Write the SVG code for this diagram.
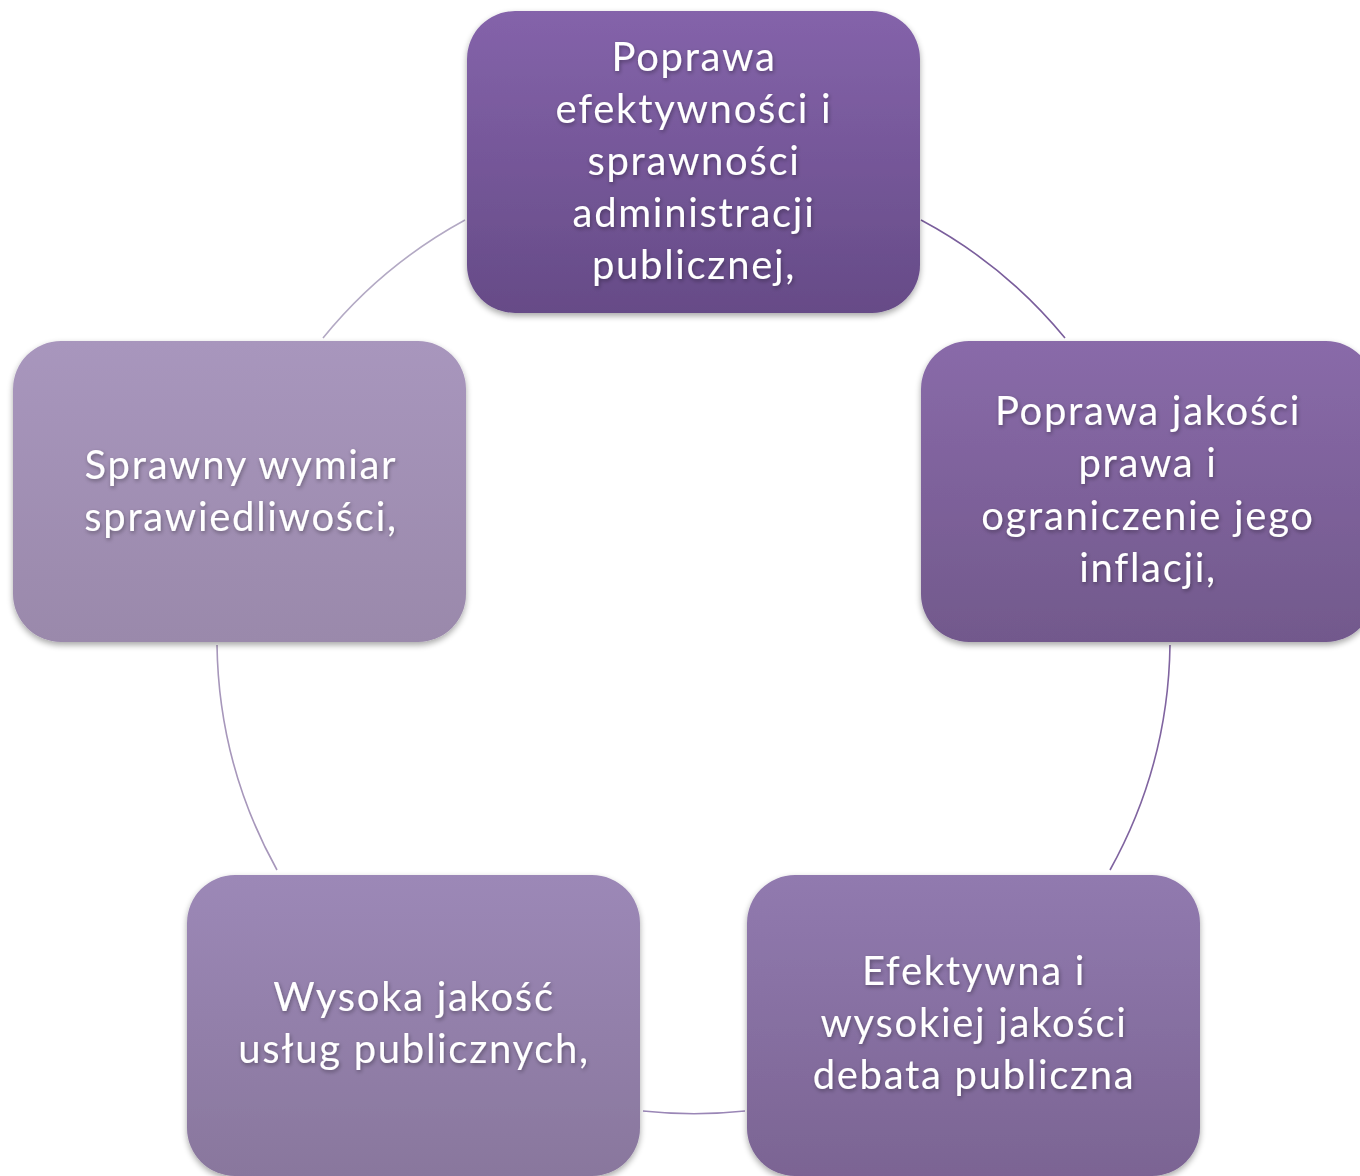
<svg xmlns="http://www.w3.org/2000/svg" width="1360" height="1176" viewBox="0 0 1360 1176">
<style>
.box{filter:url(#sh)}
.t{font-family:Lato,"Open Sans","DejaVu Sans",sans-serif;font-size:40px;letter-spacing:1.7px;fill:#ffffff;text-anchor:middle;filter:url(#tsh)}
.arc{fill:none;stroke-width:1.6}
</style>
<defs>
<filter id="sh" x="-10%" y="-10%" width="120%" height="125%">
<feGaussianBlur in="SourceAlpha" stdDeviation="3"/>
<feOffset dy="3"/>
<feComponentTransfer><feFuncA type="linear" slope="0.35"/></feComponentTransfer>
<feMerge><feMergeNode/><feMergeNode in="SourceGraphic"/></feMerge>
</filter>
<filter id="tsh" x="-10%" y="-30%" width="120%" height="160%">
<feGaussianBlur in="SourceAlpha" stdDeviation="2"/>
<feOffset dx="1" dy="2"/>
<feComponentTransfer><feFuncA type="linear" slope="0.35"/></feComponentTransfer>
<feMerge><feMergeNode/><feMergeNode in="SourceGraphic"/></feMerge>
</filter>
<linearGradient id="g1" x1="0" y1="0" x2="0" y2="1"><stop offset="0" stop-color="#8463aa"/><stop offset="1" stop-color="#664b87"/></linearGradient>
<linearGradient id="g2" x1="0" y1="0" x2="0" y2="1"><stop offset="0" stop-color="#896aa9"/><stop offset="1" stop-color="#72598c"/></linearGradient>
<linearGradient id="g3" x1="0" y1="0" x2="0" y2="1"><stop offset="0" stop-color="#917aaf"/><stop offset="1" stop-color="#7b6493"/></linearGradient>
<linearGradient id="g4" x1="0" y1="0" x2="0" y2="1"><stop offset="0" stop-color="#9c88b7"/><stop offset="1" stop-color="#89779d"/></linearGradient>
<linearGradient id="g5" x1="0" y1="0" x2="0" y2="1"><stop offset="0" stop-color="#a896bd"/><stop offset="1" stop-color="#9a89ab"/></linearGradient>
</defs>
<rect width="1360" height="1176" fill="#ffffff"/>
<g id="connectors">
<path class="arc" stroke="#b3a9c4" d="M 323 338 A 477 477 0 0 1 465 220"/>
<path class="arc" stroke="#7a5e9c" d="M 921 220 A 477 477 0 0 1 1065 338"/>
<path class="arc" stroke="#8064a0" d="M 1170 645 A 477 477 0 0 1 1110 870"/>
<path class="arc" stroke="#9a86b6" d="M 745 1111 A 477 477 0 0 1 643 1111"/>
<path class="arc" stroke="#a797bb" d="M 277 870 A 477 477 0 0 1 217 645"/>
</g>
<g id="node-top">
<rect class="box" x="467" y="11" width="453" height="302" rx="48" fill="url(#g1)"/>
<text class="t" x="694" y="71">Poprawa</text>
<text class="t" x="694" y="123">efektywności i</text>
<text class="t" x="694" y="175">sprawności</text>
<text class="t" x="694" y="227">administracji</text>
<text class="t" x="694" y="279">publicznej,</text>
</g>
<g id="node-right">
<rect class="box" x="921" y="341" width="453" height="301" rx="48" fill="url(#g2)"/>
<text class="t" x="1148" y="425">Poprawa jakości</text>
<text class="t" x="1148" y="477">prawa i</text>
<text class="t" x="1148" y="530">ograniczenie jego</text>
<text class="t" x="1148" y="582">inflacji,</text>
</g>
<g id="node-bottom-right">
<rect class="box" x="747" y="875" width="453" height="301" rx="48" fill="url(#g3)"/>
<text class="t" x="974" y="985">Efektywna i</text>
<text class="t" x="974" y="1037">wysokiej jakości</text>
<text class="t" x="974" y="1089">debata publiczna</text>
</g>
<g id="node-bottom-left">
<rect class="box" x="187" y="875" width="453" height="301" rx="48" fill="url(#g4)"/>
<text class="t" x="414" y="1011">Wysoka jakość</text>
<text class="t" x="414" y="1063">usług publicznych,</text>
</g>
<g id="node-left">
<rect class="box" x="13" y="341" width="453" height="301" rx="48" fill="url(#g5)"/>
<text class="t" x="241" y="479">Sprawny wymiar</text>
<text class="t" x="241" y="531">sprawiedliwości,</text>
</g>
</svg>
